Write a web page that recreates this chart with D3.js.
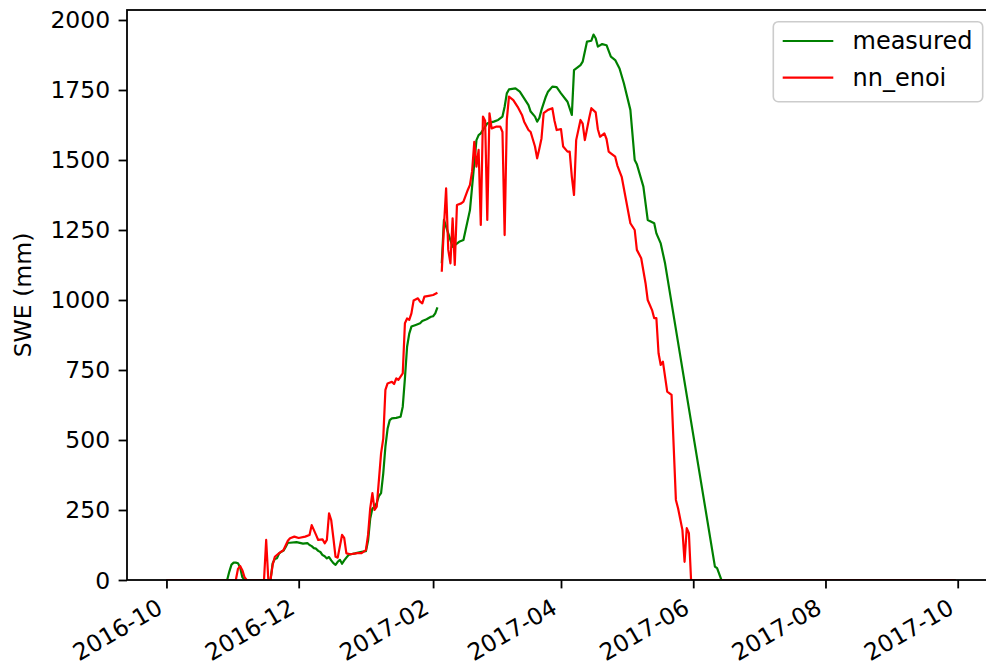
<!DOCTYPE html>
<html>
<head>
<meta charset="utf-8">
<script src="https://cdn.jsdelivr.net/npm/d3@7"></script>
<style>
  html, body { margin: 0; padding: 0; background: #ffffff; }
  svg { display: block; font-family: "DejaVu Sans", sans-serif; }
</style>
</head>
<body>
<svg id="chart" width="986" height="670"></svg>
<script>
// Snow water equivalent, water year 2016-10 .. 2017-09.
// Days are counted from the start of the water year; null marks missing data.
const waterYearStart = "2016-10-01";

const measuredDays = [0, 28, 29, 30, 31, 32, 33, 34, 35, 36, 48, 49, 50, 51, 52, 53, 54, 55, 56, 57, 60, 63, 65, 66, 67, 68, 69, 70, 71, 72, 73, 74, 75, 76, 77, 78, 79, 80, 81, 82, 83, 84, 85, 87, 90, 92, 93, 94, 95, 96, 97, 98, 99, 100, 101, 102, 103, 104, 106, 108, 109, 110, 111, 112, 113, 115, 117, 118, 120, 122, 123, 124, 125, 126, 127, 128, 130, 132, 135, 137, 138, 140, 141, 143, 144, 145, 147, 148, 151, 153, 155, 156, 157, 158, 161, 163, 165, 167, 168, 170, 171, 172, 173, 175, 176, 178, 180, 182, 185, 187, 188, 191, 192, 194, 196, 197, 198, 199, 201, 203, 205, 207, 209, 211, 214, 216, 217, 220, 222, 225, 226, 228, 230, 253, 254, 256, 364];
const measuredSWE = [0, 0, 30, 55, 62, 62, 60, 45, 10, 0, 0, 60, 75, 78, 95, 101, 105, 118, 133, 133, 135, 130, 132, 125, 121, 114, 112, 104, 100, 89, 85, 77, 82, 70, 60, 54, 65, 72, 58, 70, 80, 89, 92, 95, 101, 103, 140, 220, 255, 262, 275, 300, 310, 380, 476, 540, 571, 577, 579, 583, 619, 720, 833, 880, 905, 911, 917, 925, 931, 940, 942, 952, 974, null, 1131, 1286, 1238, 1190, 1208, 1214, 1250, 1321, 1405, 1571, 1589, 1595, 1619, 1631, 1637, 1643, 1655, 1690, 1738, 1752, 1756, 1744, 1720, 1696, 1673, 1655, 1637, 1650, 1679, 1726, 1744, 1762, 1760, 1738, 1708, 1661, 1821, 1839, 1851, 1923, 1926, 1948, 1935, 1905, 1914, 1910, 1869, 1857, 1827, 1774, 1679, 1500, 1485, 1405, 1286, 1274, 1238, 1202, 1131, 48, 42, 0, 0];

const enoiDays = [0, 32, 33, 34, 35, 36, 37, 45, 46, 47, 48, 49, 50, 52, 54, 56, 57, 59, 61, 64, 66, 67, 69, 70, 72, 73, 74, 75, 76, 77, 78, 79, 81, 82, 83, 85, 88, 90, 92, 93, 94, 95, 96, 97, 98, 99, 100, 101, 102, 104, 105, 106, 107, 109, 110, 111, 112, 113, 114, 116, 117, 118, 119, 121, 123, 125, 126, 127, 128, 129, 130, 131, 132, 133, 134, 136, 137, 139, 140, 141, 142, 143, 144, 145, 146, 147, 148, 149, 150, 152, 154, 155, 156, 157, 158, 160, 162, 164, 165, 167, 168, 170, 171, 172, 173, 174, 176, 178, 179, 180, 182, 183, 185, 186, 187, 188, 189, 191, 192, 193, 195, 196, 198, 199, 200, 202, 203, 204, 205, 207, 208, 210, 212, 214, 216, 217, 219, 221, 222, 224, 225, 226, 227, 228, 229, 231, 233, 235, 236, 238, 239, 240, 241, 242, 364];
const enoiSWE = [0, 0, 40, 50, 35, 10, 0, 0, 143, 0, 0, 55, 83, 96, 107, 140, 149, 155, 150, 155, 161, 196, 161, 143, 145, 131, 143, 238, 214, 150, 83, 80, 161, 150, 95, 92, 96, 96, 107, 161, 257, 310, 250, 262, 357, 452, 505, 679, 702, 708, 700, 720, 715, 738, 917, 934, 929, 952, 998, 1006, 994, 988, 1012, 1015, 1018, 1026, null, 1101, 1262, 1399, 1179, 1131, 1292, 1125, 1339, 1345, 1351, 1393, 1411, 1460, 1565, 1476, 1536, 1268, 1655, 1640, 1286, 1667, 1613, 1619, 1619, 1600, 1232, 1643, 1726, 1714, 1690, 1661, 1637, 1607, 1600, 1548, 1506, 1540, 1577, 1667, 1679, 1685, 1640, 1607, 1610, 1548, 1530, 1530, 1440, 1375, 1571, 1643, 1630, 1571, 1650, 1685, 1670, 1610, 1583, 1595, 1575, 1530, 1524, 1512, 1480, 1440, 1357, 1274, 1250, 1179, 1149, 1060, 1000, 964, 935, 935, 810, 768, 780, 673, 661, 286, 256, 179, 65, 185, 167, 0, 0];

const xTickLabels = ["2016-10", "2016-12", "2017-02", "2017-04", "2017-06", "2017-08", "2017-10"];
const yTickValues = [0, 250, 500, 750, 1000, 1250, 1500, 1750, 2000];
const seriesNames = ["measured", "nn_enoi"];
const seriesColors = ["#008000", "#ff0000"];

const FONT = 23.5;
const TICK_LEN = 8.4;
const TICK_PAD = 8.4;
const SPINE_W = 1.8;

const svg = d3.select("#chart");
const plot = { left: 127, right: 995, top: 10, bottom: 580 };

const start = d3.utcParse("%Y-%m-%d")(waterYearStart);
const dayToDate = d => d3.utcDay.offset(start, d);
const lastDay = 364;
const pad = lastDay * 0.05;

const x = d3.scaleUtc()
  .domain([new Date(start.getTime() - pad * 864e5), new Date(start.getTime() + (lastDay + pad) * 864e5)])
  .range([plot.left, plot.right]);

const y = d3.scaleLinear().domain([0, 2035.7]).range([plot.bottom, plot.top]);

const toPoints = (days, vals) => days.map((d, i) => ({ date: dayToDate(d), v: vals[i] }));
const series = [
  toPoints(measuredDays, measuredSWE),
  toPoints(enoiDays, enoiSWE)
];

const line = d3.line()
  .defined(p => p.v !== null)
  .x(p => x(p.date))
  .y(p => y(p.v));

svg.append("defs").append("clipPath").attr("id", "plotClip")
  .append("rect")
  .attr("x", plot.left).attr("y", plot.top)
  .attr("width", plot.right - plot.left).attr("height", plot.bottom - plot.top);

const lines = svg.append("g").attr("clip-path", "url(#plotClip)");
series.forEach((pts, i) => {
  lines.append("path")
    .datum(pts)
    .attr("fill", "none")
    .attr("stroke", seriesColors[i])
    .attr("stroke-width", 2.2)
    .attr("stroke-linejoin", "round")
    .attr("d", line);
});

// Axes
const parseMonth = d3.utcParse("%Y-%m");
const xAxis = d3.axisBottom(x)
  .tickValues(xTickLabels.map(parseMonth))
  .tickFormat(d3.utcFormat("%Y-%m"))
  .tickSize(TICK_LEN)
  .tickSizeOuter(0);

const gx = svg.append("g")
  .attr("transform", `translate(0,${plot.bottom})`)
  .call(xAxis);
gx.select(".domain").remove();
gx.selectAll(".tick line").attr("stroke", "#000").attr("stroke-width", SPINE_W);
// labels rotated 30 degrees, right end hanging just below the tick
gx.selectAll(".tick text")
  .attr("font-size", FONT)
  .attr("font-family", "DejaVu Sans")
  .attr("fill", "#000")
  .attr("text-anchor", "end")
  .attr("y", 0)
  .attr("dy", 0)
  .attr("transform", `translate(${-0.12 * FONT},${TICK_LEN + TICK_PAD + 0.66 * FONT}) rotate(-30)`);

const yAxis = d3.axisLeft(y)
  .tickValues(yTickValues)
  .tickFormat(d3.format("d"))
  .tickSize(TICK_LEN)
  .tickPadding(TICK_PAD)
  .tickSizeOuter(0);

const gy = svg.append("g")
  .attr("transform", `translate(${plot.left},0)`)
  .call(yAxis);
gy.select(".domain").remove();
gy.selectAll(".tick line").attr("stroke", "#000").attr("stroke-width", SPINE_W);
gy.selectAll(".tick text")
  .attr("font-size", FONT)
  .attr("font-family", "DejaVu Sans")
  .attr("fill", "#000")
  .attr("dy", "0.34em");

// Frame
svg.append("rect")
  .attr("x", plot.left).attr("y", plot.top)
  .attr("width", plot.right - plot.left).attr("height", plot.bottom - plot.top)
  .attr("fill", "none").attr("stroke", "#000").attr("stroke-width", SPINE_W);

// Y label
svg.append("text")
  .attr("transform", `translate(31,${(plot.top + plot.bottom) / 2}) rotate(-90)`)
  .attr("text-anchor", "middle")
  .attr("font-size", FONT)
  .attr("fill", "#000")
  .text("SWE (mm)");

// Legend
const legend = svg.append("g");
legend.append("rect")
  .attr("x", 773.3).attr("y", 21.7)
  .attr("width", 209.4).attr("height", 80)
  .attr("rx", 5).attr("ry", 5)
  .attr("fill", "#ffffff").attr("fill-opacity", 0.8)
  .attr("stroke", "#cccccc").attr("stroke-width", 1.6);

const rowY = [41, 77.7];
seriesNames.forEach((name, i) => {
  legend.append("line")
    .attr("x1", 782.7).attr("x2", 833.3)
    .attr("y1", rowY[i]).attr("y2", rowY[i])
    .attr("stroke", seriesColors[i]).attr("stroke-width", 2.2);
  legend.append("text")
    .attr("x", 852.5).attr("y", rowY[i])
    .attr("dy", "0.35em")
    .attr("font-size", 24)
    .attr("fill", "#000")
    .text(name);
});
</script>
</body>
</html>
